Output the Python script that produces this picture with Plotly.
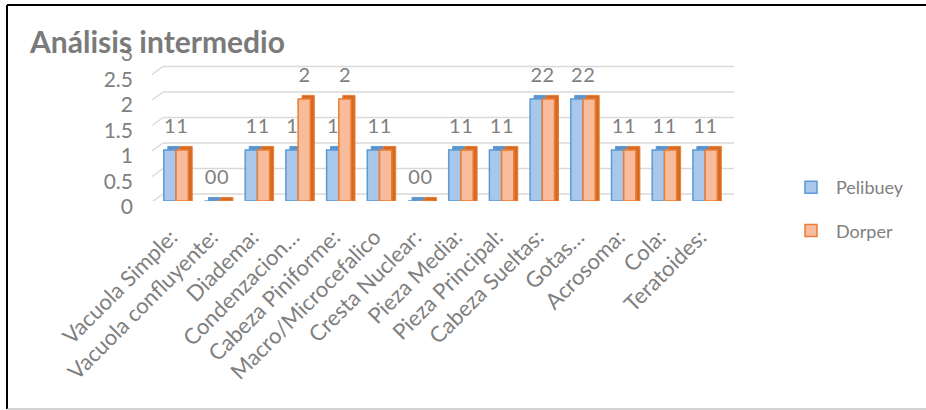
import plotly.graph_objects as go

categories = ["Vacuola Simple:", "Vacuola confluyente:", "Diadema:", "Condenzacion…",
              "Cabeza Piniforme:", "Macro/Microcefalico", "Cresta Nuclear:", "Pieza Media:",
              "Pieza Principal:", "Cabeza Sueltas:", "Gotas…", "Acrosoma:", "Cola:", "Teratoides:"]
pelibuey = [1, 0, 1, 1, 1, 1, 0, 1, 1, 2, 2, 1, 1, 1]
dorper = [1, 0, 1, 2, 2, 1, 0, 1, 1, 2, 2, 1, 1, 1]
y_ticks = [0, 0.5, 1, 1.5, 2, 2.5, 3]
y_ticktext = ["0", "0.5", "1", "1.5", "2", "2.5", "3"]
title_text = "Análisis intermedio"

W, H = 926, 410
L, R, T, B = 152, 734, 48, 201   # plot area in pixels
FONT = "Lato"
GREY = "#7f7f7f"


def xp(px):
    return (px - L) / (R - L)


def yp(py):
    return (B - py) / (B - T)


BW = 0.3      # bar width (category units)
DX = 0.098    # 3d depth horizontal
DZ = 0.07     # 3d depth vertical

series = [
    ("Pelibuey", pelibuey, -BW, "#a9c7ea", "#5b9bd5", "#5e92cc"),
    ("Dorper", dorper, 0.0, "#f8bc9c", "#ed7d31", "#d56a24"),
]

fig = go.Figure()
for i, (name, vals, off, fill, line, side) in enumerate(series):
    # data labels (transparent carrier bars so later bars may occlude them)
    fig.add_trace(go.Bar(
        x=categories, y=[0.4] * len(vals), base=[v + 0.3 for v in vals],
        offset=off, width=BW, marker=dict(color="rgba(0,0,0,0)", line=dict(width=0)),
        text=[str(v) for v in vals], textposition="inside", insidetextanchor="middle",
        constraintext="none", textfont=dict(family=FONT, size=20, color=GREY),
        showlegend=False, hoverinfo="skip", cliponaxis=False))
    # side/top depth face
    fig.add_trace(go.Bar(
        x=categories, y=[v + DZ for v in vals], base=0,
        offset=off + DX, width=BW,
        marker=dict(color=side, line=dict(color=line, width=1)),
        showlegend=False, hoverinfo="skip"))
    # front face
    fig.add_trace(go.Bar(
        x=categories, y=vals, name=name, offset=off, width=BW,
        marker=dict(color=fill, line=dict(color=line, width=1.5)),
        legendgroup=name))

shapes = []
gb = 7 / 51
for v in y_ticks:
    shapes.append(dict(type="line", xref="paper", yref="y", x0=xp(163), x1=xp(734),
                       y0=v + gb, y1=v + gb, line=dict(color="#d9d9d9", width=1.5), layer="below"))
    shapes.append(dict(type="line", xref="paper", yref="y", x0=xp(152), x1=xp(163),
                       y0=v - 1 / 51, y1=v + gb, line=dict(color="#d9d9d9", width=1.5), layer="below"))
# white box behind the title (hides the top of the "3" label like the original)
shapes.append(dict(type="rect", xref="paper", yref="paper", x0=xp(24), x1=xp(294),
                   y0=yp(49), y1=yp(24), fillcolor="white", line=dict(width=0), layer="above"))
# chart frame
shapes.append(dict(type="line", xref="paper", yref="paper", x0=xp(7), x1=xp(7),
                   y0=yp(5), y1=yp(409), line=dict(color="black", width=2)))
shapes.append(dict(type="line", xref="paper", yref="paper", x0=xp(7), x1=xp(930),
                   y0=yp(5), y1=yp(5), line=dict(color="black", width=2)))
shapes.append(dict(type="line", xref="paper", yref="paper", x0=xp(7), x1=xp(930),
                   y0=yp(409), y1=yp(409), line=dict(color="#a6a6a6", width=1)))

fig.update_layout(
    width=W, height=H, autosize=False,
    margin=dict(l=L, r=W - R, t=T, b=H - B, pad=0),
    paper_bgcolor="white", plot_bgcolor="white",
    barmode="overlay", showlegend=True,
    font=dict(family=FONT, size=20, color=GREY),
    xaxis=dict(type="category", range=[-0.59, 13.71], showgrid=False, zeroline=False,
               showline=False, tickangle=-45, ticks="", ticklabelstandoff=18,
               ticklabelshift=-5,
               tickfont=dict(family=FONT, size=22, color=GREY)),
    yaxis=dict(range=[0, 3], tickvals=y_ticks, ticktext=y_ticktext, showgrid=False,
               zeroline=False, showline=False, ticks="", ticklabelstandoff=18,
               ticklabelshift=6, tickfont=dict(family=FONT, size=21, color=GREY)),
    legend=dict(x=xp(786), y=yp(169), xanchor="left", yanchor="top", itemwidth=40,
                font=dict(family=FONT, size=18, color=GREY), traceorder="grouped",
                tracegroupgap=17, bgcolor="rgba(0,0,0,0)"),
    shapes=shapes,
    annotations=[dict(text="<b>" + title_text + "</b>", xref="paper", yref="paper",
                      x=xp(27), y=yp(41), xanchor="left", yanchor="middle", showarrow=False,
                      font=dict(family=FONT, size=30, color="#7a7a7a"))],
)

fig.write_html("out.html")
